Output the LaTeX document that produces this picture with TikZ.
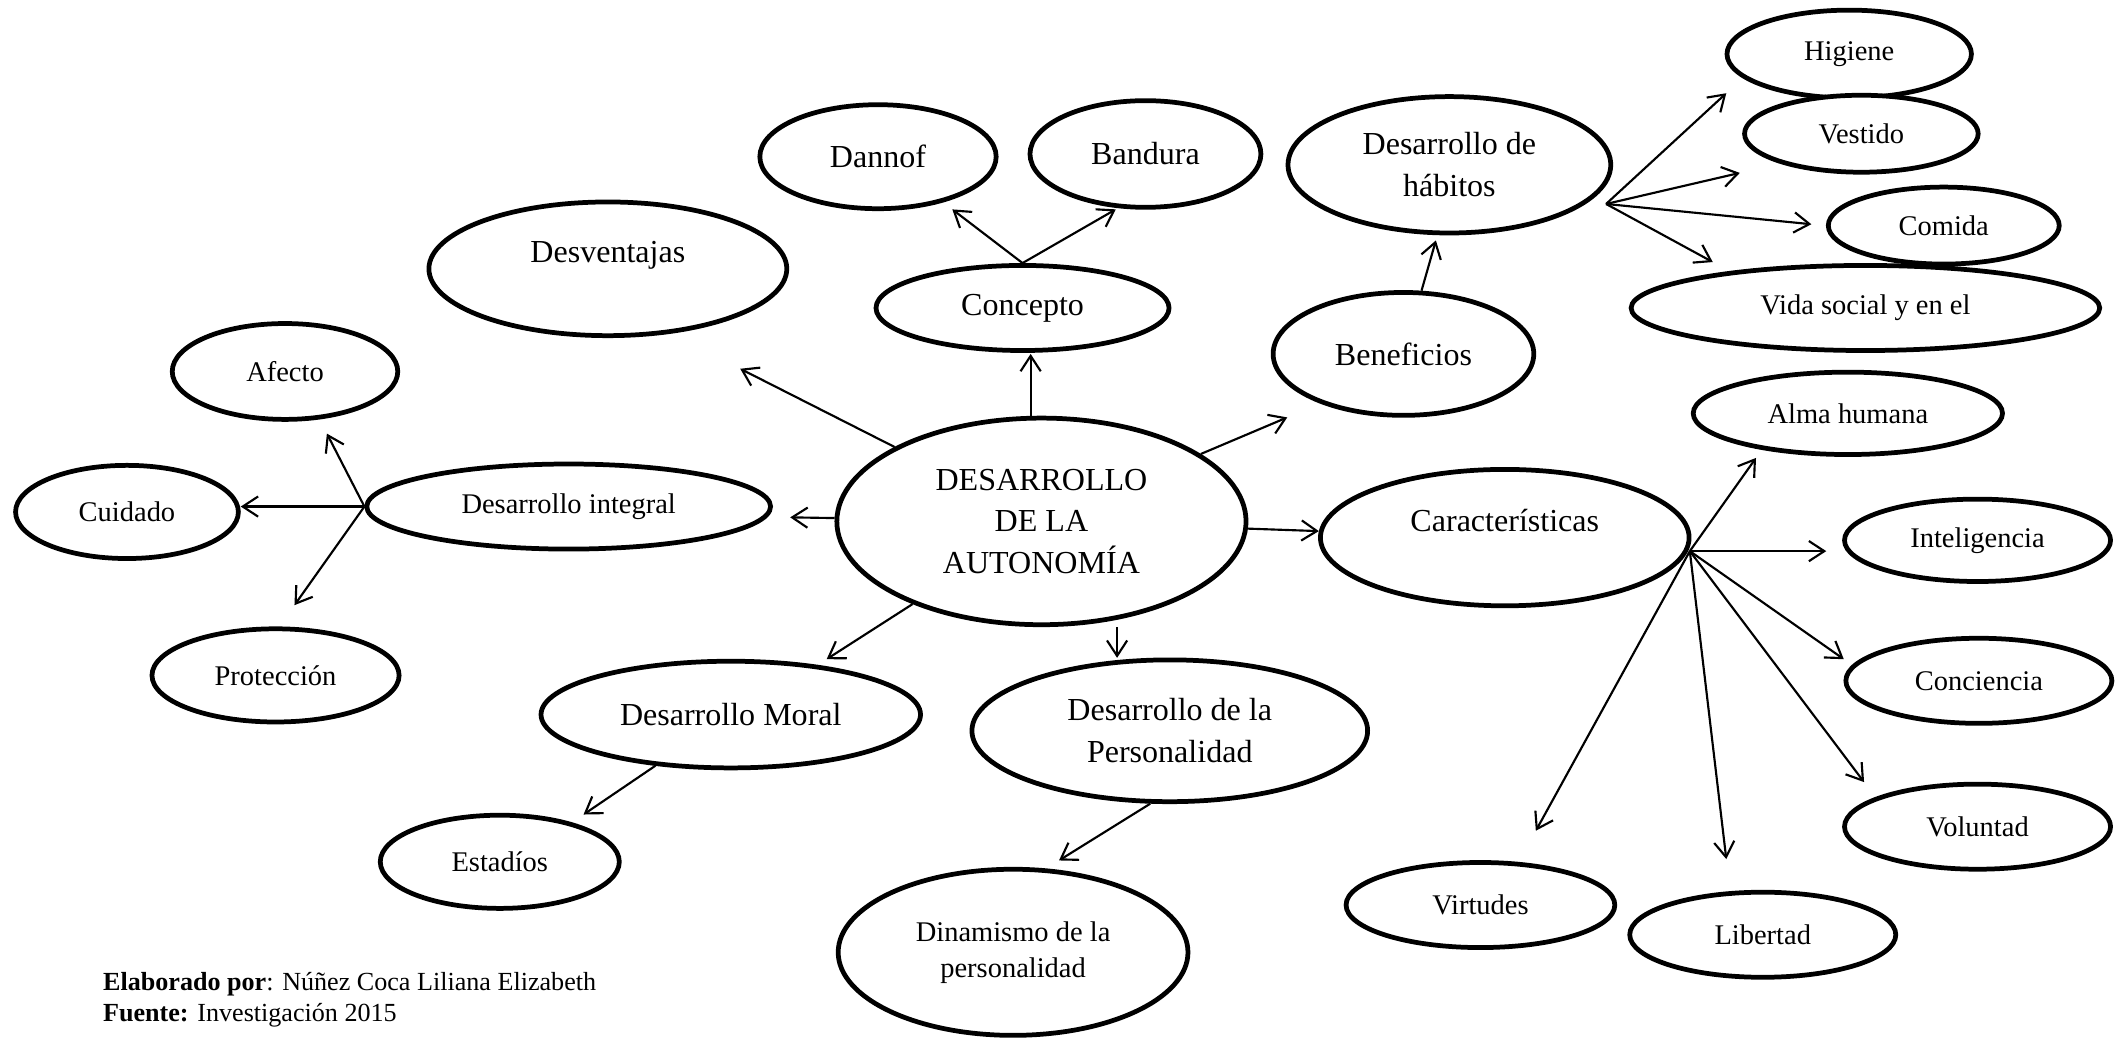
\documentclass[tikz,border=0pt]{standalone}
\usepackage{fontspec}
\setmainfont{Liberation Serif}
\usepackage{tikz}
\usetikzlibrary{shapes.geometric}
\usetikzlibrary{arrows.meta}

\newcommand{\letragrande}{\fontsize{13.5}{17.6}\selectfont}
\newcommand{\letrachica}{\fontsize{12}{15.3}\selectfont}

\begin{document}
\begin{tikzpicture}[x=0.02cm, y=-0.02cm,
   elipse/.style={ellipse, draw, fill=white, line width=2pt, inner sep=0pt, align=center},
   grande/.style={font=\letragrande},
   chica/.style={font=\letrachica},
   arriba/.style={text height=9pt, text depth=14pt},
   flecha/.style={-{Straight Barb[length=6.5pt,width=8.5pt]}, line width=0.9pt}
]
   \useasboundingbox (0,0) rectangle (1568,768);

   \node[elipse, grande, minimum width=6.06cm, minimum height=3.06cm] (centro) at (771,386) {DESARROLLO\\DE LA\\AUTONOMÍA};
   \node[elipse, grande, minimum width=5.30cm, minimum height=1.98cm, arriba] (desv) at (450,199) {Desventajas};
   \node[elipse, grande, minimum width=3.50cm, minimum height=1.54cm] (dannof) at (650,116) {Dannof};
   \node[elipse, grande, minimum width=3.42cm, minimum height=1.58cm] (bandura) at (848,114) {Bandura};
   \node[elipse, grande, minimum width=4.34cm, minimum height=1.26cm] (concepto) at (757,228) {Concepto};
   \node[elipse, chica, minimum width=5.98cm, minimum height=1.26cm] (integral) at (421,375) {Desarrollo integral};
   \node[elipse, chica, minimum width=3.34cm, minimum height=1.42cm] (afecto) at (211,275) {Afecto};
   \node[elipse, chica, minimum width=3.30cm, minimum height=1.38cm] (cuidado) at (94,379) {Cuidado};
   \node[elipse, chica, minimum width=3.66cm, minimum height=1.38cm] (proteccion) at (204,500) {Protección};
   \node[elipse, grande, minimum width=5.62cm, minimum height=1.58cm] (moral) at (541,529) {Desarrollo Moral};
   \node[elipse, chica, minimum width=3.54cm, minimum height=1.38cm] (estadios) at (370,638) {Estadíos};
   \node[elipse, chica, minimum width=5.18cm, minimum height=2.46cm] (dinamismo) at (750,705) {Dinamismo de la\\personalidad};
   \node[elipse, grande, minimum width=5.86cm, minimum height=2.10cm] (personalidad) at (866,541) {Desarrollo de la\\Personalidad};
   \node[elipse, grande, minimum width=3.86cm, minimum height=1.82cm] (beneficios) at (1039,262) {Beneficios};
   \node[elipse, grande, minimum width=4.78cm, minimum height=2.02cm] (habitos) at (1073,122) {Desarrollo de\\hábitos};
   \node[elipse, chica, minimum width=3.62cm, minimum height=1.30cm] (higiene) at (1369,40) {Higiene};
   \node[elipse, chica, minimum width=3.46cm, minimum height=1.14cm] (vestido) at (1378,99) {Vestido};
   \node[elipse, chica, minimum width=3.42cm, minimum height=1.14cm] (comida) at (1439,167) {Comida};
   \node[elipse, chica, minimum width=6.94cm, minimum height=1.26cm] (vida) at (1381,228) {Vida social y en el};
   \node[elipse, chica, minimum width=4.58cm, minimum height=1.22cm] (alma) at (1368,306) {Alma humana};
   \node[elipse, grande, minimum width=5.46cm, minimum height=2.02cm, arriba] (caract) at (1114,398) {Características};
   \node[elipse, chica, minimum width=3.94cm, minimum height=1.22cm] (inteligencia) at (1464,400) {Inteligencia};
   \node[elipse, chica, minimum width=3.94cm, minimum height=1.26cm] (conciencia) at (1465,504) {Conciencia};
   \node[elipse, chica, minimum width=3.94cm, minimum height=1.26cm] (voluntad) at (1464,612) {Voluntad};
   \node[elipse, chica, minimum width=3.98cm, minimum height=1.26cm] (virtudes) at (1096,670) {Virtudes};
   \node[elipse, chica, minimum width=3.94cm, minimum height=1.26cm] (libertad) at (1305,692) {Libertad};

   \node[anchor=west, align=left, inner sep=0pt, font=\fontsize{11}{13}\selectfont] (fuente) at (76,740)
      {\textbf{Elaborado por}: Núñez Coca Liliana Elizabeth\\\textbf{Fuente:} Investigación 2015};

   % puntas de flecha
   \coordinate (tDesv) at (548,273);
   \coordinate (tConcepto) at (763,262);
   \coordinate (tDannof) at (705,155);
   \coordinate (tBandura) at (826,155);
   \coordinate (tBenef) at (953,309);
   \coordinate (tHab) at (1063,178);
   \coordinate (habR) at (1189,151);
   \coordinate (tHig) at (1278,69);
   \coordinate (tVest) at (1288,128);
   \coordinate (tCom) at (1341,166);
   \coordinate (tVida) at (1268,194);
   \coordinate (tInt) at (585,383);
   \coordinate (tAfecto) at (242,321);
   \coordinate (tProt) at (218,448);
   \coordinate (tMoral) at (612,488);
   \coordinate (tEst) at (432,603);
   \coordinate (tPers) at (827,487);
   \coordinate (tDin) at (784,637);
   \coordinate (hub) at (1251,408);
   \coordinate (tAlma) at (1300,339);
   \coordinate (tIntel) at (1352,408);
   \coordinate (tConc) at (1365,488);
   \coordinate (tVol) at (1380,579);
   \coordinate (tLib) at (1278,636);
   \coordinate (tVirt) at (1137,615);

   \draw[flecha] (centro) -- (tDesv);
   \draw[flecha] (tConcepto |- centro.north) -- (tConcepto);
   \draw[flecha] (concepto.north) -- (tDannof);
   \draw[flecha] (concepto.north) -- (tBandura);
   \draw[flecha] (centro) -- (tBenef);
   \draw[flecha] (beneficios) -- (tHab);
   \foreach \p in {tHig,tVest,tCom,tVida}
      \draw[flecha] (habR) -- (\p);
   \draw[flecha] (centro) -- (tInt);
   \draw[flecha] (integral.west) -- (tAfecto);
   \draw[flecha] (integral.west) -- (integral.west -| cuidado.east);
   \draw[flecha] (integral.west) -- (tProt);
   \draw[flecha] (centro) -- (tMoral);
   \draw[flecha] (moral) -- (tEst);
   \draw[flecha] (tPers |- centro.south) -- (tPers);
   \draw[flecha] (personalidad.-105) -- (tDin);
   \draw[flecha] (centro) -- (caract);
   \foreach \p in {tAlma,tIntel,tConc,tVol,tLib,tVirt}
      \draw[flecha] (hub) -- (\p);

\end{tikzpicture}
\end{document}
